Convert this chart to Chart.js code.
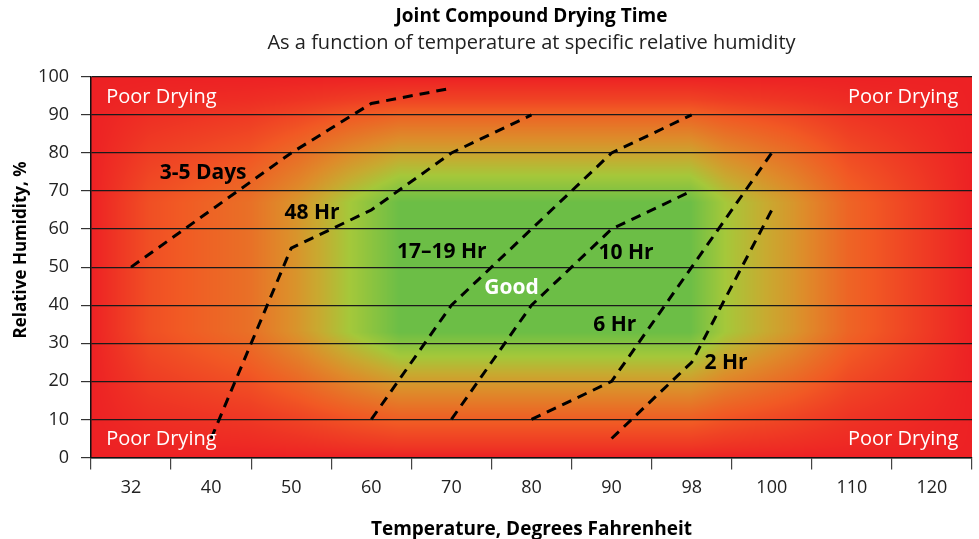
<!DOCTYPE html>
<html>
<head>
<meta charset="utf-8">
<script src="https://cdn.jsdelivr.net/npm/chart.js@4.4.1/dist/chart.umd.min.js"></script>
<style>
html,body{margin:0;padding:0;background:#fff;}
#wrap{width:979px;height:539px;position:relative;}
</style>
</head>
<body>
<div id="wrap"><canvas id="c" width="979" height="539"></canvas></div>
<script>
// ---- data ----
const temps = ['32','40','50','60','70','80','90','98','100','110','120'];
const rhTicks = [0,10,20,30,40,50,60,70,80,90,100];

const days35T = ['32','50','60','70'];
const days35RH = [50,80,93,97];
const hr48T = ['40','50','60','70','80'];
const hr48RH = [5,55,65,80,90];
const hr17T = ['60','70','80','90','98'];
const hr17RH = [10,40,60,80,90];
const hr10T = ['70','80','90','98'];
const hr10RH = [10,40,60,70];
const hr6T = ['80','90','98','100'];
const hr6RH = [10,20,50,80];
const hr2T = ['90','98','100'];
const hr2RH = [5,25,65];

// label text with anchor (x in category-index units, y in RH %)
const zoneLabels = ['3-5 Days','48 Hr','17–19 Hr','10 Hr','Good','6 Hr','2 Hr'];
const zoneX = [0.9,2.26,3.88,6.18,4.75,6.04,7.43];
const zoneY = [74.6,64.1,53.9,53.6,44.4,34.7,24.8];
const poorText = 'Poor Drying';

const FONT = 'Open Sans';

function pts(t, rh){ return t.map((v,i)=>({x:v, y:rh[i]})); }
function ds(t, rh){
  return {data:pts(t,rh), borderColor:'#000', borderWidth:3, borderDash:[10,7],
          pointRadius:0, tension:0, fill:false, borderCapStyle:'butt'};
}

// ---- background heat gradient ----
const uPts = [[0,0],[0.066,0.2],[0.18,0.36],[0.236,0.55],[0.293,0.8],[0.35,1],[0.68,1],[0.72,0.8],[0.797,0.55],[0.86,0.3],[1,0]];
const vPts = [[0,0],[0.06,0.15],[0.1,0.3],[0.2,0.62],[0.26,0.8],[0.33,1],[0.67,1],[0.735,0.8],[0.81,0.55],[0.89,0.3],[0.97,0.1],[1,0]];
const cmap = [[0,[237,33,36]],[0.25,[241,90,36]],[0.5,[222,140,42]],[0.65,[200,170,48]],[0.8,[165,200,58]],[1,[108,190,70]]];
function pl(p,f){
  for(let i=1;i<p.length;i++){ if(f<=p[i][0]){ const a=p[i-1],b=p[i]; const t=(f-a[0])/(b[0]-a[0]); return a[1]+(b[1]-a[1])*t; } }
  return p[p.length-1][1];
}
function col(t){
  for(let i=1;i<cmap.length;i++){ if(t<=cmap[i][0]){ const a=cmap[i-1],b=cmap[i]; const s=(t-a[0])/(b[0]-a[0]); return [0,1,2].map(k=>a[1][k]+(b[1][k]-a[1][k])*s); } }
  return cmap[cmap.length-1][1];
}
const heatPlugin = {
  id:'heat',
  beforeDraw(chart){
    const a = chart.chartArea, ctx = chart.ctx;
    const w = Math.round(a.right-a.left), h = Math.round(a.bottom-a.top);
    const oc = document.createElement('canvas'); oc.width=w; oc.height=h;
    const octx = oc.getContext('2d'); const img = octx.createImageData(w,h);
    const us = new Float32Array(w); for(let x=0;x<w;x++) us[x]=pl(uPts,(x+0.5)/w);
    for(let y=0;y<h;y++){
      const v = pl(vPts,(y+0.5)/h);
      for(let x=0;x<w;x++){
        const c = col(us[x]*v); const o=(y*w+x)*4;
        img.data[o]=c[0]; img.data[o+1]=c[1]; img.data[o+2]=c[2]; img.data[o+3]=255;
      }
    }
    octx.putImageData(img,0,0);
    ctx.save(); ctx.drawImage(oc,a.left,a.top,a.right-a.left,a.bottom-a.top); ctx.restore();
  }
};
const textPlugin = {
  id:'texts',
  afterDatasetsDraw(chart){
    const ctx = chart.ctx, xs = chart.scales.x, ys = chart.scales.y;
    ctx.save();
    ctx.textBaseline='middle';
    ctx.font = 'bold 21px "'+FONT+'"';
    ctx.textAlign='center';
    zoneLabels.forEach((t,i)=>{
      ctx.fillStyle = t==='Good' ? '#fff' : '#000';
      ctx.fillText(t, xs.getPixelForValue(zoneX[i]), ys.getPixelForValue(zoneY[i]));
    });
    ctx.font = '20px "'+FONT+'"';
    ctx.fillStyle = '#fff';
    ctx.textAlign='left';
    ctx.fillText(poorText, xs.getPixelForValue(-0.31), ys.getPixelForValue(94.5));
    ctx.fillText(poorText, xs.getPixelForValue(-0.31), ys.getPixelForValue(4.85));
    ctx.textAlign='right';
    ctx.fillText(poorText, xs.getPixelForValue(10.33), ys.getPixelForValue(94.5));
    ctx.fillText(poorText, xs.getPixelForValue(10.33), ys.getPixelForValue(4.85));
    // y axis title
    ctx.fillStyle = '#000';
    ctx.font = 'bold 17px "'+FONT+'"';
    ctx.translate(21, 250);
    ctx.rotate(-Math.PI/2);
    ctx.textAlign='center';
    ctx.fillText('Relative Humidity, %', 0, 0);
    ctx.restore();
  }
};

new Chart(document.getElementById('c'), {
  type:'line',
  data:{ labels:temps, datasets:[ds(days35T,days35RH),ds(hr48T,hr48RH),ds(hr17T,hr17RH),ds(hr10T,hr10RH),ds(hr6T,hr6RH),ds(hr2T,hr2RH)] },
  options:{
    responsive:false, animation:false, devicePixelRatio:1,
    layout:{padding:{left:0,right:7,top:0,bottom:0}},
    plugins:{
      legend:{display:false}, tooltip:{enabled:false},
      title:{display:true, fullSize:false, text:'Joint Compound Drying Time', color:'#000',
             font:{family:FONT, size:19, weight:'bold'}, padding:{top:5,bottom:2}},
      subtitle:{display:true, fullSize:false, text:'As a function of temperature at specific relative humidity', color:'#222',
             font:{family:FONT, size:20}, padding:{top:1,bottom:22}}
    },
    scales:{
      x:{ type:'category', offset:true,
          grid:{display:true, offset:true, drawOnChartArea:false, drawTicks:true, tickLength:12, tickColor:'#444', lineWidth:1.2},
          border:{display:true, color:'#111', width:1.5},
          ticks:{color:'#222', font:{family:FONT, size:18}, padding:8, maxRotation:0, autoSkip:false},
          title:{display:true, text:'Temperature, Degrees Fahrenheit', color:'#000', font:{family:FONT, size:19, weight:'bold'}, padding:{top:0,bottom:-2}},
          afterFit(s){ s.height = 81.5; } },
      y:{ type:'linear', min:0, max:100,
          afterBuildTicks(s){ s.ticks = rhTicks.map(v=>({value:v})); },
          grid:{color:'#1a1a1a', lineWidth:1.2, drawTicks:true, tickLength:10, tickColor:'#333'},
          border:{display:true, color:'#111', width:1.5},
          ticks:{color:'#222', font:{family:FONT, size:18}, padding:12},
          afterFit(s){ s.width = 91; } }
    }
  },
  plugins:[heatPlugin, textPlugin]
});
</script>
</body>
</html>
